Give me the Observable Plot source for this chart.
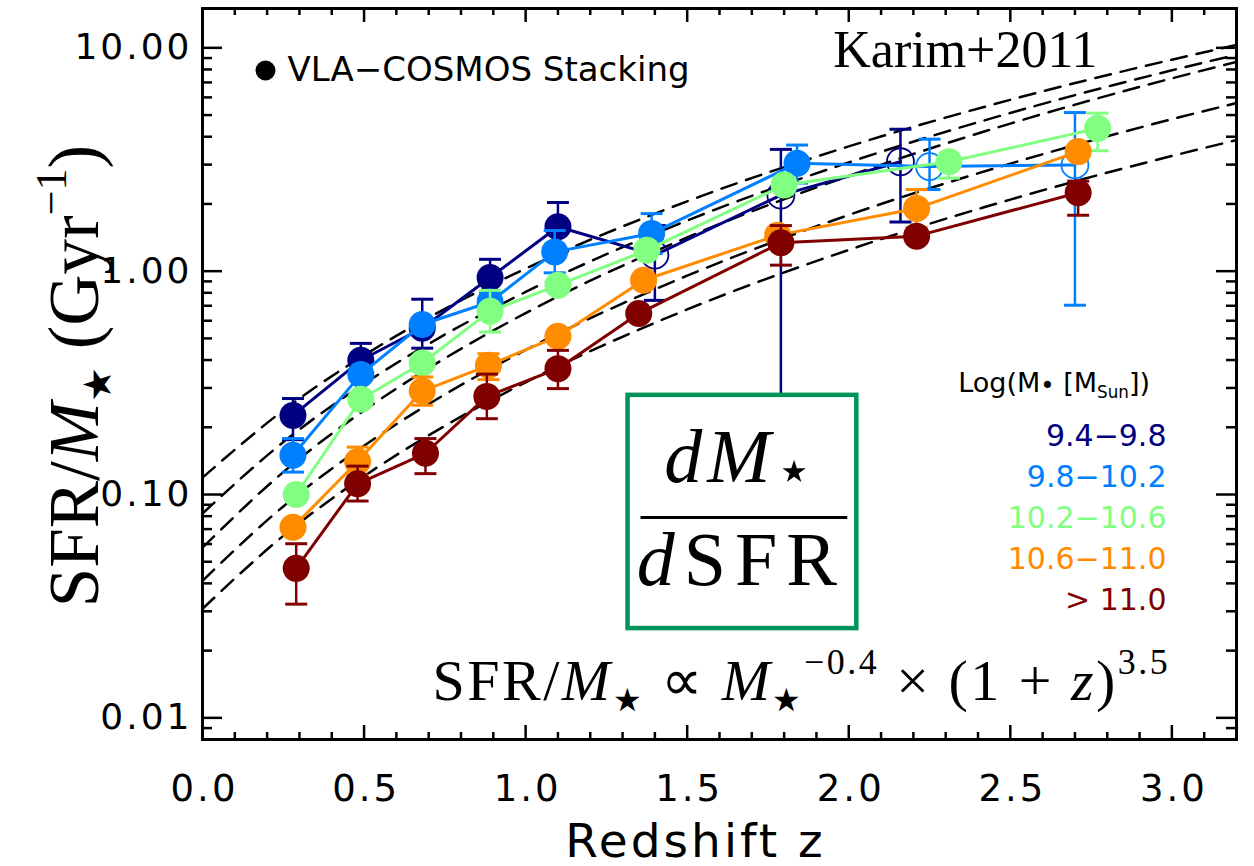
<!DOCTYPE html>
<html><head><meta charset="utf-8">
<script src="https://cdn.jsdelivr.net/npm/d3@7"></script>
<script src="https://cdn.jsdelivr.net/npm/@observablehq/plot@0.6"></script>
<style>
html,body{margin:0;padding:0;background:#fff;overflow:hidden}
#chart svg{display:block}
</style></head><body><div id="chart"></div>
<script>
// ---------- data ----------
const massBins = ["9.4−9.8", "9.8−10.2", "10.2−10.6", "10.6−11.0", "> 11.0"];
const binColors = ["#000080", "#0080ff", "#80ff80", "#ff8c00", "#800000"];

const z_94 = [0.28, 0.49, 0.68, 0.89, 1.10, 1.40, 1.79, 2.16];
const v_94 = [0.226, 0.399, 0.555, 0.937, 1.58, 1.18, 2.19, 3.09];
const lo_94 = [0.176, 0.335, 0.452, 0.78, 1.23, 0.74, 0.06, 1.66];
const hi_94 = [0.269, 0.475, 0.749, 1.13, 2.03, 1.6, 3.51, 4.32];
const open_94 = [0, 0, 0, 0, 0, 1, 1, 1];

const z_98 = [0.28, 0.49, 0.68, 0.89, 1.09, 1.39, 1.84, 2.25, 2.70];
const v_98 = [0.150, 0.345, 0.577, 0.728, 1.22, 1.476, 3.04, 2.94, 2.99];
const lo_98 = [0.126, null, null, 0.66, 0.983, 1.2, 2.48, 2.32, 0.704];
const hi_98 = [0.178, null, null, 0.80, 1.52, 1.81, 3.67, 3.90, 5.13];
const open_98 = [0, 0, 0, 0, 0, 0, 0, 1, 1];

const z_102 = [0.29, 0.49, 0.68, 0.89, 1.10, 1.375, 1.80, 2.31, 2.77];
const v_102 = [0.100, 0.267, 0.388, 0.662, 0.866, 1.242, 2.43, 3.09, 4.36];
const lo_102 = [null, null, null, 0.534, null, null, null, 2.61, 3.46];
const hi_102 = [null, null, null, 0.82, null, null, null, null, 5.1];

const z_106 = [0.28, 0.48, 0.68, 0.885, 1.10, 1.365, 1.78, 2.21, 2.71];
const v_106 = [0.0713, 0.1406, 0.2905, 0.379, 0.511, 0.911, 1.45, 1.91, 3.43];
const lo_106 = [null, 0.122, 0.251, 0.327, null, null, null, 1.57, null];
const hi_106 = [null, 0.163, 0.336, 0.427, null, null, null, 2.32, null];

const z_110 = [0.29, 0.48, 0.69, 0.88, 1.10, 1.35, 1.79, 2.21, 2.71];
const v_110 = [0.0467, 0.1117, 0.153, 0.275, 0.366, 0.646, 1.34, 1.435, 2.245];
const lo_110 = [0.0323, 0.0935, 0.124, 0.2185, 0.298, null, 1.064, null, 1.78];
const hi_110 = [0.0602, 0.134, 0.178, 0.346, 0.442, null, 1.6, null, 2.53];

// dashed model curves
const modelZ = [0, 0.25, 0.5, 0.75, 1, 1.5, 2, 2.5, 3, 3.2];
const model_94 = [0.119, 0.238, 0.420, 0.678, 1.027, 2.055, 3.62, 5.85, 8.85, 10.3];
const model_98 = [0.0822, 0.1716, 0.313, 0.520, 0.807, 1.685, 3.07, 5.11, 7.93, 9.31];
const model_102 = [0.0578, 0.126, 0.238, 0.407, 0.649, 1.416, 2.67, 4.58, 7.30, 8.65];
const model_106 = [0.0411, 0.0884, 0.1654, 0.2805, 0.4436, 0.9546, 1.785, 3.03, 4.79, 5.66];
const model_110 = [0.0308, 0.0653, 0.1208, 0.203, 0.318, 0.674, 1.245, 2.092, 3.28, 3.86];

const yTicks = [0.01, 0.1, 1, 10];
const yMinor = [0.008, 0.009, 0.02, 0.03, 0.04, 0.05, 0.06, 0.07, 0.08, 0.09,
  0.2, 0.3, 0.4, 0.5, 0.6, 0.7, 0.8, 0.9, 2, 3, 4, 5, 6, 7, 8, 9];
const xTicks = [0.0, 0.5, 1.0, 1.5, 2.0, 2.5, 3.0];
const xMinor = [0.1, 0.2, 0.3, 0.4, 0.6, 0.7, 0.8, 0.9, 1.1, 1.2, 1.3, 1.4, 1.6, 1.7, 1.8, 1.9,
  2.1, 2.2, 2.3, 2.4, 2.6, 2.7, 2.8, 2.9, 3.1];

// annotation box (data units)
const boxZ = [1.317, 2.025];
const boxV = [0.0251, 0.278];
const fracLine = {z1: 1.357, z2: 1.997, v: 0.0788};

// ---------- layout ----------
const W = 1254, H = 866;
const mL = 202, mR = 18, mT = 8, mB = 127;
const pW = W - mL - mR, pH = H - mT - mB;

const rowsFor = (z, v, lo, hi, open) =>
  z.map((zz, i) => ({z: zz, v: v[i], lo: lo[i], hi: hi[i], open: open ? !!open[i] : false}));
const series = [
  {rows: rowsFor(z_94, v_94, lo_94, hi_94, open_94), color: binColors[0]},
  {rows: rowsFor(z_98, v_98, lo_98, hi_98, open_98), color: binColors[1]},
  {rows: rowsFor(z_102, v_102, lo_102, hi_102, null), color: binColors[2]},
  {rows: rowsFor(z_106, v_106, lo_106, hi_106, null), color: binColors[3]},
  {rows: rowsFor(z_110, v_110, lo_110, hi_110, null), color: binColors[4]}
];
const models = [model_94, model_98, model_102, model_106, model_110];

const capSym = {draw(ctx) { ctx.moveTo(-11, 0); ctx.lineTo(11, 0); }};

const modelMarks = models.map(m =>
  Plot.line(modelZ.map((z, i) => ({z, v: m[i]})), {
    x: "z", y: "v", curve: "monotone-x", stroke: "black", strokeWidth: 2.5,
    strokeDasharray: "16,10", clip: true
  }));

const seriesMarks = series.flatMap(s => {
  const eb = s.rows.filter(d => d.lo != null || d.hi != null);
  return [
    Plot.line(s.rows, {x: "z", y: "v", stroke: s.color, strokeWidth: 3}),
    Plot.ruleX(eb, {x: "z", y1: d => d.lo ?? d.v, y2: d => d.hi ?? d.v, stroke: s.color, strokeWidth: 2.5}),
    Plot.dot(s.rows.filter(d => d.hi != null), {x: "z", y: "hi", symbol: capSym, stroke: s.color, strokeWidth: 3, fill: "none"}),
    Plot.dot(s.rows.filter(d => d.lo != null), {x: "z", y: "lo", symbol: capSym, stroke: s.color, strokeWidth: 3, fill: "none"}),
    Plot.dot(s.rows.filter(d => !d.open), {x: "z", y: "v", r: 13.5, fill: s.color, stroke: "none"}),
    Plot.dot(s.rows.filter(d => d.open), {x: "z", y: "v", r: 13.5, fill: "none", stroke: s.color, strokeWidth: 1.8})
  ];
});

const tickMarks = [
  Plot.ruleY(yTicks, {y: d => d, insetRight: pW - 20, strokeWidth: 2.5}),
  Plot.ruleY(yTicks, {y: d => d, insetLeft: pW - 20, strokeWidth: 2.5}),
  Plot.ruleY(yMinor, {y: d => d, insetRight: pW - 10, strokeWidth: 2.5}),
  Plot.ruleY(yMinor, {y: d => d, insetLeft: pW - 10, strokeWidth: 2.5}),
  Plot.ruleX(xTicks, {x: d => d, insetTop: pH - 14, strokeWidth: 2.5}),
  Plot.ruleX(xTicks, {x: d => d, insetBottom: pH - 14, strokeWidth: 2.5}),
  Plot.ruleX(xMinor, {x: d => d, insetTop: pH - 7, strokeWidth: 2.5}),
  Plot.ruleX(xMinor, {x: d => d, insetBottom: pH - 7, strokeWidth: 2.5})
];

const legendMarks = massBins.map((label, i) =>
  Plot.text([label], {
    frameAnchor: "top-right", dx: -70, dy: 437 + 41 * i, text: d => d,
    textAnchor: "end", lineAnchor: "bottom", fontSize: 30, fill: binColors[i],
    fontFamily: "DejaVu Sans"
  }));

const chart = Plot.plot({
  width: W, height: H,
  marginLeft: mL, marginRight: mR, marginTop: mT, marginBottom: mB,
  x: {domain: [0, 3.2], axis: null},
  y: {type: "log", domain: [0.008, 15], axis: null},
  style: {fontFamily: "DejaVu Sans", background: "white", color: "black", overflow: "visible"},
  marks: [
    ...modelMarks,
    ...seriesMarks,
    Plot.rect([{}], {x1: () => boxZ[0], x2: () => boxZ[1], y1: () => boxV[0], y2: () => boxV[1],
      fill: "white", stroke: "#00935a", strokeWidth: 4.5}),
    Plot.ruleY([fracLine], {y: "v", x1: "z1", x2: "z2", stroke: "black", strokeWidth: 3}),
    Plot.frame({stroke: "black", strokeWidth: 3}),
    ...tickMarks,
    Plot.text(yTicks, {y: d => d, frameAnchor: "left", dx: -10, textAnchor: "end", lineAnchor: "middle",
      text: d => d3.format(".2f")(d), fontSize: 36, fontFamily: "DejaVu Sans"}),
    Plot.text(xTicks, {x: d => d, frameAnchor: "bottom", dx: 2, dy: 61, lineAnchor: "bottom",
      text: d => d.toFixed(1), fontSize: 37, fontFamily: "DejaVu Sans"}),
    Plot.text(["Redshift z"], {frameAnchor: "bottom", dx: -24, dy: 117, lineAnchor: "bottom",
      text: d => d, fontSize: 47, fontFamily: "DejaVu Sans"}),
    Plot.dot([{}], {frameAnchor: "top-left", dx: 63, dy: 62, r: 10, fill: "black"}),
    Plot.text(["VLA−COSMOS Stacking"], {frameAnchor: "top-left", dx: 85, dy: 62, textAnchor: "start",
      lineAnchor: "middle", text: d => d, fontSize: 34, fontFamily: "DejaVu Sans"}),
    Plot.text(["Karim+2011"], {frameAnchor: "top-right", dx: -139, dy: 58, textAnchor: "end",
      lineAnchor: "bottom", text: d => d, fontSize: 52, fontFamily: "Liberation Serif"}),
    ...legendMarks
  ]
});
document.getElementById("chart").appendChild(chart);

// ---------- rich text annotations ----------
const sx = chart.scale("x"), sy = chart.scale("y");
const svg = d3.select(chart);
svg.selectAll("text").filter(function() { return /^[0-9.]+$/.test(this.textContent); })
  .style("letter-spacing", "3px");
svg.selectAll("text").filter(function() { return this.textContent === "Redshift z"; })
  .style("letter-spacing", "3px");

function rich(x, y, parts, {size, family, anchor = "middle", transform = null, spacing = null}) {
  const t = svg.append("text")
    .attr("x", x).attr("y", y)
    .attr("text-anchor", anchor)
    .attr("font-family", family)
    .attr("font-size", size)
    .attr("fill", "black");
  if (transform) t.attr("transform", transform);
  if (spacing) t.style("letter-spacing", spacing);
  let cur = 0;
  for (const [txt, o = {}] of parts) {
    const fs = (o.scale || 1) * size;
    const off = (o.shift || 0) * size;
    const sp = t.append("tspan").text(txt).attr("font-size", fs).attr("dy", off - cur);
    if (o.italic) sp.attr("font-style", "italic");
    cur = off;
  }
  return t;
}
const SUB = {scale: 0.55, shift: 0.18};
const SUP = {scale: 0.62, shift: -0.45};

// y axis title
rich(0, 0, [["SFR/"], ["M", {italic: 1}], ["★", SUB], [" (Gyr"], ["−1", SUP], [")"]],
  {size: 71, family: "Liberation Serif", transform: `translate(${mL - 104},${376}) rotate(-90)`});

// scaling law
rich(sx.apply(1.855), sy.apply(0.0119),
  [["SFR/"], ["M", {italic: 1}], ["★", SUB], [" ∝ "], ["M", {italic: 1}], ["★", SUB], ["−0.4", SUP],
   [" × (1 + "], ["z", {italic: 1}], [")"], ["3.5", SUP]],
  {size: 58, family: "Liberation Serif", spacing: "2.5px"});

// fraction in the box
rich(sx.apply(1.669), sy.apply(0.113), [["d", {italic: 1}], ["M", {italic: 1}], ["⋆", {scale: 0.8, shift: 0.12}]],
  {size: 76, family: "Liberation Serif", spacing: "5px"});
rich(sx.apply(1.669), sy.apply(0.0391), [["d", {italic: 1}], ["SFR"]],
  {size: 76, family: "Liberation Serif", spacing: "9px"});

// legend title
rich(sx.apply(2.637), sy.apply(0.2867), [["Log(M"], ["•", {scale: 0.9, shift: 0.08}], [" [M"], ["Sun", {scale: 0.62, shift: 0.22}], ["])"]],
  {size: 27, family: "DejaVu Sans"});
</script></body></html>
